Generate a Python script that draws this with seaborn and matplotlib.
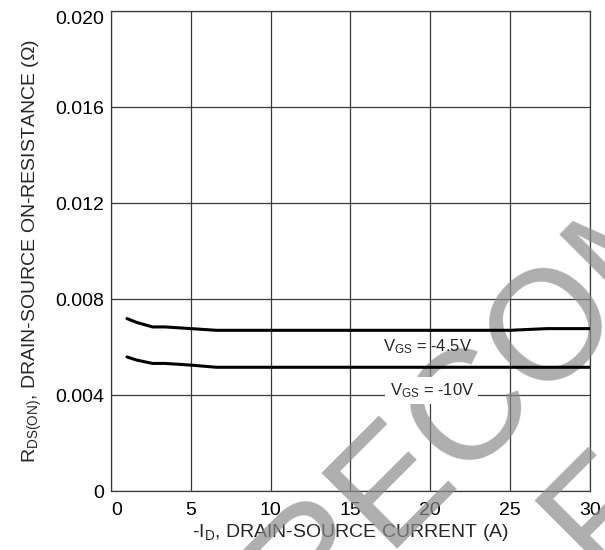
import pandas as pd
import seaborn as sns
import matplotlib
matplotlib.use("Agg")
import matplotlib.pyplot as plt

# Datos
corriente = [1.0, 1.6, 2.6, 3.4, 5.0, 6.6, 10, 15, 20, 25, 27.3, 30]
rds_45v = [0.00719, 0.00703, 0.00684, 0.00684, 0.00677, 0.00670, 0.00670,
           0.00670, 0.00670, 0.00670, 0.00677, 0.00677]
rds_10v = [0.00559, 0.00546, 0.00532, 0.00532, 0.00525, 0.00516, 0.00516,
           0.00516, 0.00516, 0.00516, 0.00516, 0.00516]
x_ticks = [0, 5, 10, 15, 20, 25, 30]
y_ticks = [0, 0.004, 0.008, 0.012, 0.016, 0.020]
y_tick_labels = ["0", "0.004", "0.008", "0.012", "0.016", "0.020"]

df = pd.DataFrame({
    "I": corriente * 2,
    "R": rds_45v + rds_10v,
    "VGS": ["-4.5V"] * len(corriente) + ["-10V"] * len(corriente),
})

sns.set_style("white")
plt.rcParams["font.family"] = ["Liberation Sans", "DejaVu Sans"]
plt.rcParams["mathtext.fontset"] = "custom"
plt.rcParams["mathtext.rm"] = "Liberation Sans"

fig = plt.figure(figsize=(6.05, 5.5), dpi=100)
ax = fig.add_axes([0.1835, 0.107, 0.7915, 0.873])

grid_color = "#3a3a3a"
sns.lineplot(data=df, x="I", y="R", units="VGS", estimator=None, color="black",
             linewidth=2.2, ax=ax, legend=False, zorder=5)

ax.set_xlim(0, 30)
ax.set_ylim(0, 0.020)
ax.set_xticks(x_ticks)
ax.set_yticks(y_ticks)
ax.set_yticklabels(y_tick_labels)
ax.tick_params(labelsize=14, length=0, colors="black")
ax.tick_params(axis="x", pad=8)
ax.tick_params(axis="y", pad=5)
ax.get_yticklabels()[-1].set_va("top")
ax.get_xticklabels()[0].set_ha("left")
ax.grid(True, color=grid_color, linewidth=0.9)
for s in ax.spines.values():
    s.set_color(grid_color)
    s.set_linewidth(0.9)

ax.set_xlabel(r"-$\mathregular{I_D}$, DRAIN-SOURCE CURRENT (A)", fontsize=14, labelpad=2)
ax.set_ylabel(r"$\mathregular{R_{DS(ON)}}$, DRAIN-SOURCE ON-RESISTANCE (Ω)", fontsize=14, labelpad=8)

# Etiquetas de las curvas
ax.text(19.85, 0.0060, r"$\mathregular{V_{GS}}$ = -4.5V", fontsize=12,
        ha="center", va="center", zorder=6)
ax.text(20.1, 0.00419, r"$\mathregular{V_{GS}}$ = -10V", fontsize=12,
        ha="center", va="center", zorder=6,
        bbox=dict(facecolor="white", edgecolor="none", pad=3))

# Marca de agua (coordenadas en pixeles de la figura)
wm = dict(fontsize=112, color="#8c8c8c", alpha=0.7, rotation=45,
          rotation_mode="anchor", ha="left", va="baseline", zorder=4,
          transform=None, clip_on=False)
ax.text(306, -78, "RECOMMENDED", **wm)
ax.text(603, -36, "FOR NEW DESIGN", **wm)

plt.savefig("out.png", dpi=100)
